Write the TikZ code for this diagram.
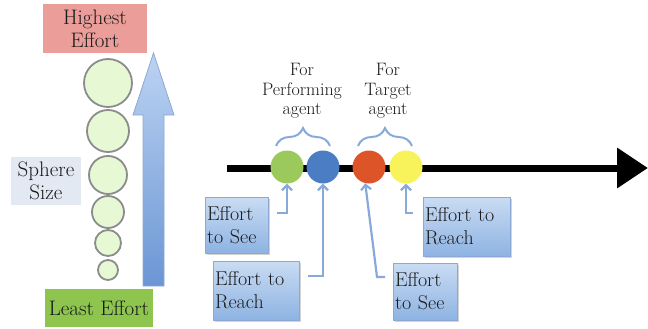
\documentclass[tikz,border=0pt]{standalone}
\usetikzlibrary{arrows.meta,decorations.pathreplacing,shadows}

\definecolor{txt}{HTML}{1A1A1A}
\definecolor{highpink}{HTML}{EA9D99}
\definecolor{leastgreen}{HTML}{8DC54E}
\definecolor{sizebox}{HTML}{E3E9F3}
\definecolor{spherefill}{HTML}{E6F8D4}
\definecolor{sphereline}{HTML}{8C8C8C}
\definecolor{uptop}{HTML}{BCD3F2}
\definecolor{upbot}{HTML}{6B96D4}
\definecolor{upline}{HTML}{8CA9D6}
\definecolor{dotgreen}{HTML}{9CC95B}
\definecolor{dotblue}{HTML}{4A7DC4}
\definecolor{dotred}{HTML}{DD5428}
\definecolor{dotyellow}{HTML}{F8F25B}
\definecolor{lineblue}{HTML}{88AADB}
\definecolor{boxtop}{HTML}{C9DCF3}
\definecolor{boxbot}{HTML}{8EB3E2}

\tikzset{
    lbl/.style={font=\fontsize{21}{23}\selectfont, text=txt, align=center, inner sep=0pt},
    sphere/.style={circle, draw=sphereline, fill=spherefill, line width=1.8pt, inner sep=0pt},
    dot/.style={circle, minimum size=33pt, inner sep=0pt},
    effbox/.style={draw=upline, line width=0.8pt, top color=boxtop, bottom color=boxbot,
        font=\fontsize{20}{23}\selectfont, text=txt, align=left, inner sep=2pt,
        drop shadow={shadow xshift=2pt, shadow yshift=-2pt, opacity=0.35}},
    conn/.style={draw=lineblue, line width=2.2pt, -{Straight Barb[length=5pt,width=10pt]}},
    bracket/.style={draw=lineblue, line width=2pt, decorate, decoration={brace, amplitude=18pt}}
}

\begin{document}
\begin{tikzpicture}[x=1pt,y=-1pt]
    \useasboundingbox (0,0) rectangle (648,329);

    % left part: effort scale
    \node[lbl, fill=highpink, minimum width=104pt, minimum height=49pt] (high) at (95,28.5) {Highest\\Effort};
    \node[lbl, fill=sizebox, minimum width=70pt, minimum height=48pt] (size) at (46,181) {Sphere\\Size};
    \node[lbl, fill=leastgreen, minimum width=108pt, minimum height=38pt] (least) at (99,308) {Least Effort};
    \foreach \n/\yy/\r in {1/83/24, 2/131/21, 3/175/19, 4/212/16, 5/243/13, 6/270/10}
        {
            \node[sphere, minimum size=\r*2pt] (s\n) at (108,\yy) {};
        }
    \shade[top color=uptop, bottom color=upbot, draw=upline, line width=0.8pt]
        (143,286) -- (143,115) -- (133,115) -- (153.5,53) -- (174,115) -- (164,115) -- (164,286) -- cycle;

    % right part: axis with the four efforts
    \coordinate (start) at (227,168);
    \coordinate (end) at (648,168);
    \draw[line width=7pt, -{Triangle[length=31pt,width=39pt]}] (start) -- (end);
    \node[dot, fill=dotgreen] (seeP) at (287,167) {};
    \node[dot, fill=dotblue] (reachP) at (323,167) {};
    \node[dot, fill=dotred] (seeT) at (369,167) {};
    \node[dot, fill=dotyellow] (reachT) at (406,167) {};

    \draw[bracket] (276,146) -- (330,146);
    \draw[bracket] (358,146) -- (412,146);
    \node[lbl, font=\fontsize{18}{19.5}\selectfont] (perf) at (302,91) {For\\Performing\\agent};
    \node[lbl, font=\fontsize{18}{19.5}\selectfont] (targ) at (388,91) {For\\Target\\agent};

    \node[effbox, text width=59pt, minimum height=56pt] (boxSeeP) at (236.5,225) {Effort\\to See};
    \node[effbox, text width=82pt, minimum height=59pt] (boxReachP) at (256,290.5) {Effort to\\Reach};
    \node[effbox, text width=60pt, minimum height=57pt] (boxSeeT) at (425,291.5) {Effort\\to See};
    \node[effbox, text width=83pt, minimum height=59pt] (boxReachT) at (466.5,226.5) {Effort to\\Reach};

    \coordinate (e1) at (277,213);
    \coordinate (e2) at (308,276);
    \coordinate (e3) at (385,277);
    \coordinate (e4) at (413,213);
    \draw[conn] (e1) -| (seeP.south);
    \draw[conn] (e2) -| (reachP.south);
    \draw[conn] (e3) -- ++(-8,0) -- (seeT.-103);
    \draw[conn] (e4) -| (reachT.south);
\end{tikzpicture}
\end{document}
